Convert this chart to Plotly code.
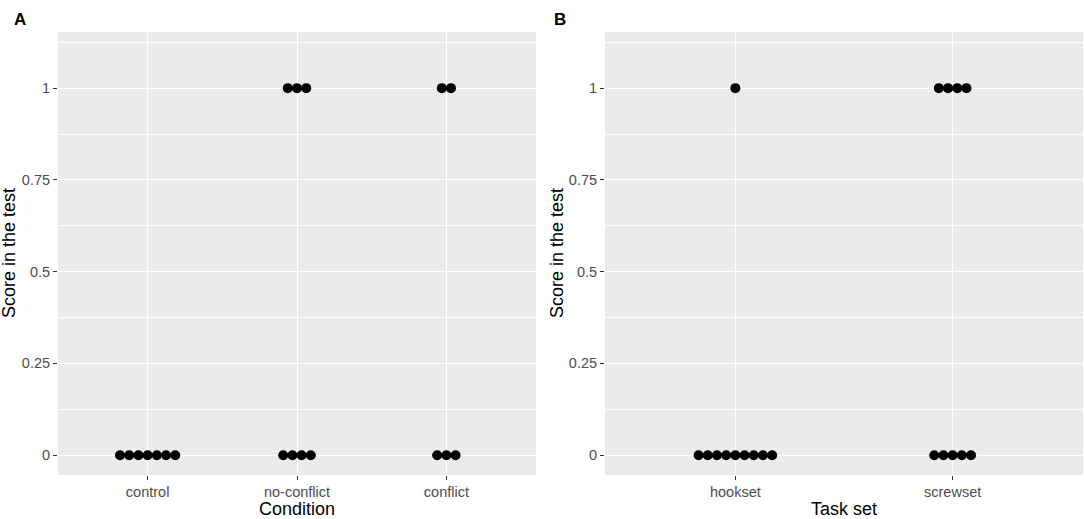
import plotly.graph_objects as go

# panel A: score counts per condition
condition_cats = ["control", "no-conflict", "conflict"]
condition_n0 = [7, 4, 3]
condition_n1 = [0, 3, 2]

# panel B: score counts per task set
task_cats = ["hookset", "screwset"]
task_n0 = [9, 5]
task_n1 = [1, 4]

score_ticks = [0, 0.25, 0.5, 0.75, 1]
score_labels = ["0", "0.25", "0.5", "0.75", "1"]

W, H = 1084, 519
DOT = 9.2  # px between stacked dot centres


def px_x(x):
    return x / W


def px_y(y):
    return (H - y) / H


xa_dom = [px_x(58), px_x(536)]
xb_dom = [px_x(605), px_x(1083)]
y_dom = [px_y(475), px_y(32)]
y_rng = [-0.054, 1.153]


def stack(cats, n0, n1, dom):
    rng = (0.4, len(cats) + 0.6)
    per = (dom[1] - dom[0]) * W / (rng[1] - rng[0])
    step = DOT / per
    xs, ys = [], []
    for i, c in enumerate(cats):
        for score, n in ((0, n0[i]), (1, n1[i])):
            for k in range(n):
                xs.append(i + 1 + (k - (n - 1) / 2) * step)
                ys.append(score)
    return xs, ys, rng


fig = go.Figure()
xs, ys, rng_a = stack(condition_cats, condition_n0, condition_n1, xa_dom)
fig.add_trace(go.Scatter(x=xs, y=ys, mode="markers", xaxis="x", yaxis="y",
                         marker=dict(size=10, color="black", line=dict(width=0))))
xs, ys, rng_b = stack(task_cats, task_n0, task_n1, xb_dom)
fig.add_trace(go.Scatter(x=xs, y=ys, mode="markers", xaxis="x2", yaxis="y2",
                         marker=dict(size=10, color="black", line=dict(width=0))))

FONT = "Liberation Sans, Arial"
tickfont = dict(family=FONT, size=14.5, color="#4D4D4D")


def xaxis(cats, rng, dom, anchor):
    return dict(domain=dom, range=list(rng), anchor=anchor,
                tickvals=list(range(1, len(cats) + 1)), ticktext=cats,
                ticks="outside", ticklen=4, tickcolor="#333333", tickwidth=1,
                tickfont=tickfont, showgrid=True, gridcolor="white", gridwidth=1.1,
                zeroline=False, showline=False)


def yaxis(anchor):
    return dict(domain=y_dom, range=y_rng, anchor=anchor,
                tickvals=score_ticks, ticktext=score_labels,
                ticks="outside", ticklen=4, tickcolor="#333333", tickwidth=1,
                tickfont=tickfont, showgrid=True, gridcolor="white", gridwidth=1.1,
                zeroline=False, showline=False,
                minor=dict(tickvals=[0.125, 0.375, 0.625, 0.875, 1.125],
                           showgrid=True, gridcolor="white", gridwidth=0.5, ticklen=0))


def label(text, x, y, angle=0, bold=False, size=18, xanchor="center", yanchor="middle"):
    return dict(text=f"<b>{text}</b>" if bold else text, x=px_x(x), y=px_y(y),
                xref="paper", yref="paper", xanchor=xanchor, yanchor=yanchor,
                textangle=angle, showarrow=False,
                font=dict(family=FONT, size=size, color="black"))


fig.update_layout(
    width=W, height=H, showlegend=False, hovermode=False,
    paper_bgcolor="white", plot_bgcolor="#EBEBEB",
    margin=dict(l=0, r=0, t=0, b=0, pad=0),
    xaxis=xaxis(condition_cats, rng_a, xa_dom, "y"),
    yaxis=yaxis("x"),
    xaxis2=xaxis(task_cats, rng_b, xb_dom, "y2"),
    yaxis2=yaxis("x2"),
    annotations=[
        label("A", 12, 8, bold=True, size=17, xanchor="left", yanchor="top"),
        label("B", 552, 8, bold=True, size=17, xanchor="left", yanchor="top"),
        label("Condition", 297, 509),
        label("Task set", 844, 509),
        label("Score in the test", 9, 253, angle=-90),
        label("Score in the test", 557, 253, angle=-90),
    ],
)

# drop the default 8px body margin so the figure fills the window
fig.write_html("out.html", config={"displayModeBar": False},
               post_script="document.body.style.margin='0px';")
